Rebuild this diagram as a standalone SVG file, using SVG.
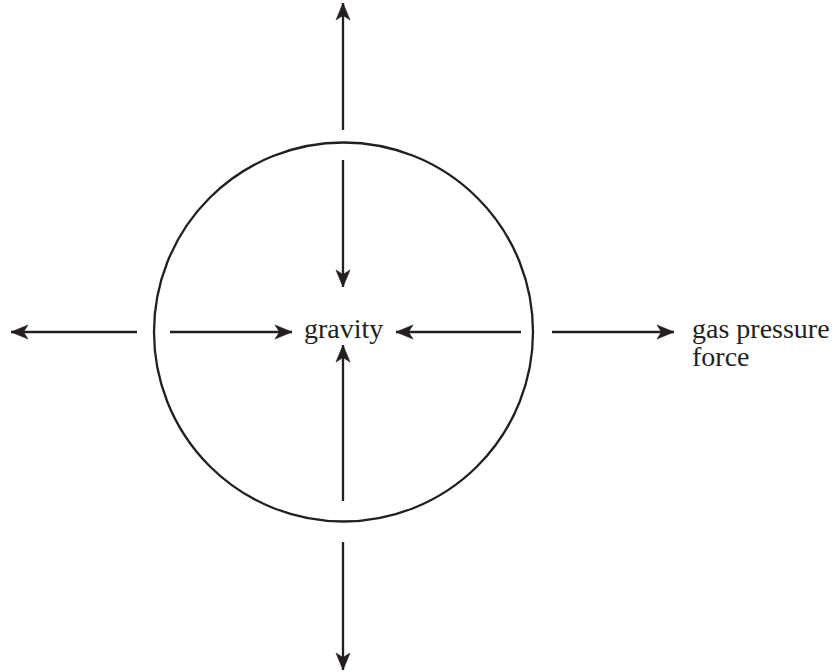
<svg xmlns="http://www.w3.org/2000/svg" width="840" height="672" viewBox="0 0 840 672">
<style>
.ln{stroke:#231f20;stroke-width:2.3;fill:none}
text{font-family:"Liberation Serif","Times New Roman","DejaVu Serif",serif;font-size:28px;fill:#231f20}
</style>
<defs>
<marker id="ah" markerUnits="userSpaceOnUse" markerWidth="20" markerHeight="18" viewBox="-18 -9 20 18" refX="0" refY="0" orient="auto">
<path d="M0,0 L-17,-7 L-12.5,0 L-17,7 Z" fill="#231f20" stroke="#231f20" stroke-width="0.6" stroke-linejoin="miter"/>
</marker>
</defs>
<rect width="840" height="672" fill="#fff"/>
<g id="star">
<circle cx="343.5" cy="332" r="189.5" class="ln"/>
</g>
<g id="gravity">
<text x="304" y="338">gravity</text>
</g>
<g id="gas-pressure">
<text x="692" y="338">gas pressure</text>
<text x="692" y="366">force</text>
</g>
<g id="connectors">
<line x1="343" y1="130" x2="343" y2="3" class="ln" marker-end="url(#ah)"/>
<line x1="343" y1="160" x2="343" y2="287" class="ln" marker-end="url(#ah)"/>
<line x1="343" y1="501" x2="343" y2="345" class="ln" marker-end="url(#ah)"/>
<line x1="343" y1="542" x2="343" y2="670" class="ln" marker-end="url(#ah)"/>
<line x1="137" y1="332" x2="11" y2="332" class="ln" marker-end="url(#ah)"/>
<line x1="170" y1="332" x2="292" y2="332" class="ln" marker-end="url(#ah)"/>
<line x1="521" y1="332" x2="396" y2="332" class="ln" marker-end="url(#ah)"/>
<line x1="552" y1="332" x2="674" y2="332" class="ln" marker-end="url(#ah)"/>
</g>
</svg>
